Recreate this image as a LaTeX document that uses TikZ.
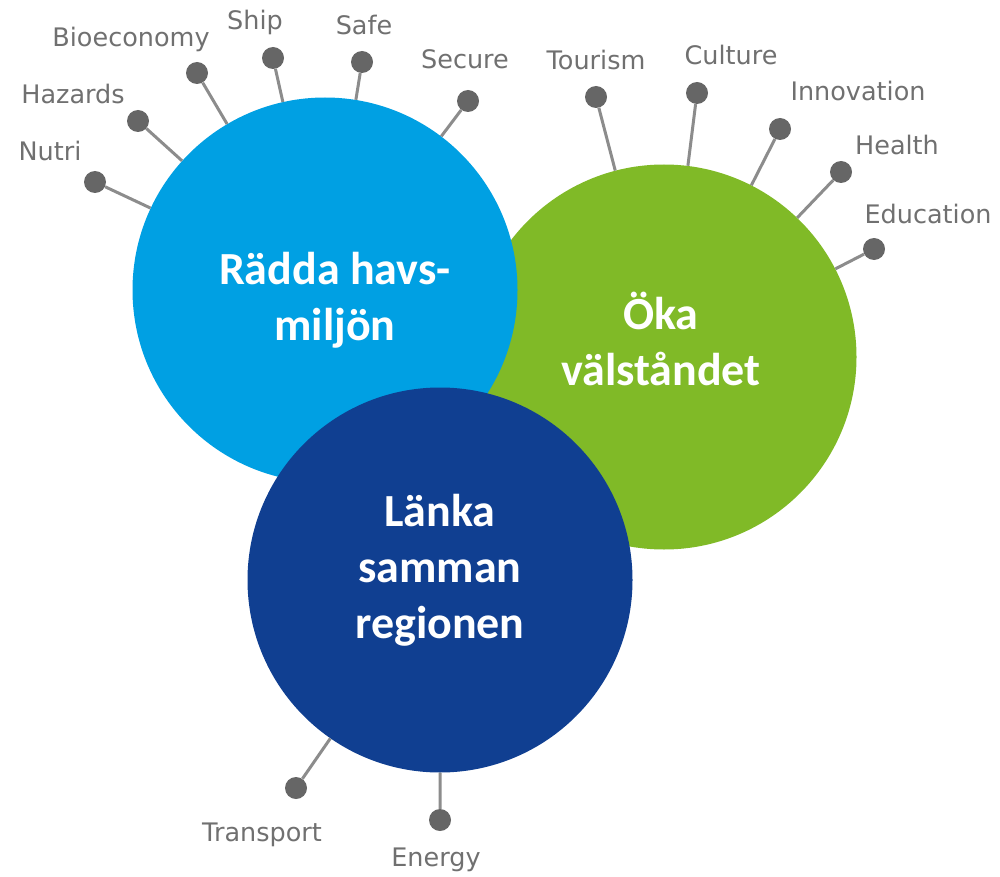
\documentclass[tikz,border=0pt]{standalone}
\usepackage{fontspec}
\setmainfont{Carlito}
\newfontfamily\pinfont{DejaVu Sans}
\usetikzlibrary{positioning}
\definecolor{seablue}{RGB}{0,160,227}
\definecolor{wellgreen}{RGB}{128,186,39}
\definecolor{linkblue}{RGB}{16,63,145}
\definecolor{pindot}{RGB}{102,102,102}
\definecolor{pinline}{RGB}{140,140,140}
\definecolor{pintext}{RGB}{112,112,112}

\begin{document}
\begin{tikzpicture}[x=1pt,y=-1pt,
    main circle/.style={circle,minimum size=385pt,inner sep=0pt},
    circle text/.style={text=white,align=center,inner sep=0pt,font=\bfseries\fontsize{46}{56}\selectfont},
    pin dot/.style={circle,fill=pindot,minimum size=22pt,inner sep=0pt},
    pin label/.style={text=pintext,inner sep=0pt,text height=19pt,text depth=5pt,font=\pinfont\fontsize{25.5}{30}\selectfont},
    pin line/.style={draw=pinline,line width=3pt}]

    \useasboundingbox (0,0) rectangle (1000,877);

    \node[main circle,fill=wellgreen] (oka) at (664,357) {};
    \node[main circle,fill=seablue] (radda) at (325,290) {};
    \node[main circle,fill=linkblue] (lanka) at (440,580) {};

    \node[circle text] (okatext) at (661,339) {Öka\\välståndet};
    \node[circle text] (raddatext) at (335,300) {Rädda havs-\\miljön};
    \node[circle text] (lankatext) at (440,570) {Länka\\samman\\regionen};

    \node[pin dot] (nutri) at (95,182) {};
    \node[pin dot] (hazards) at (138,121) {};
    \node[pin dot] (bioeconomy) at (197,73) {};
    \node[pin dot] (ship) at (273,58) {};
    \node[pin dot] (safe) at (362,62) {};
    \node[pin dot] (secure) at (468,101) {};
    \node[pin dot] (tourism) at (596,97) {};
    \node[pin dot] (culture) at (697,93) {};
    \node[pin dot] (innovation) at (780,129) {};
    \node[pin dot] (health) at (841,172) {};
    \node[pin dot] (education) at (874,249) {};
    \node[pin dot] (transport) at (296,788) {};
    \node[pin dot] (energy) at (440,820) {};

    \path[pin line] (nutri) -- (radda)
        (hazards) -- (radda)
        (bioeconomy) -- (radda)
        (ship) -- (radda)
        (safe) -- (radda)
        (secure) -- (radda);
    \path[pin line] (tourism) -- (oka)
        (culture) -- (oka)
        (innovation) -- (oka)
        (health) -- (oka)
        (education) -- (oka);
    \path[pin line] (transport) -- (lanka)
        (energy) -- (lanka);

    \node[pin label] (nutrilabel) at (50,154) {Nutri};
    \node[pin label] (hazardslabel) at (73,97) {Hazards};
    \node[pin label] (bioeconomylabel) at (131,40) {Bioeconomy};
    \node[pin label] (shiplabel) at (255,23) {Ship};
    \node[pin label] (safelabel) at (364,28) {Safe};
    \node[pin label] (securelabel) at (465,62) {Secure};
    \node[pin label] (tourismlabel) at (596,63) {Tourism};
    \node[pin label] (culturelabel) at (731,58) {Culture};
    \node[pin label] (innovationlabel) at (858,94) {Innovation};
    \node[pin label] (healthlabel) at (897,148) {Health};
    \node[pin label] (educationlabel) at (928,217) {Education};
    \node[pin label] (transportlabel) at (262,834) {Transport};
    \node[pin label] (energylabel) at (436,859) {Energy};

\end{tikzpicture}
\end{document}
